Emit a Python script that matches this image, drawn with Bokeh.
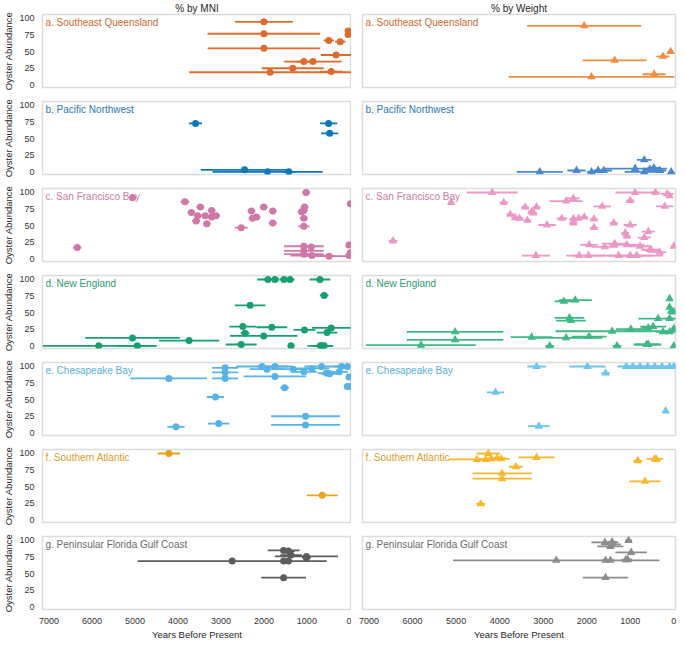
from bokeh.plotting import figure
from bokeh.layouts import column, row
from bokeh.models import Range1d, Label, FixedTicker
from bokeh.embed import file_html
from bokeh.resources import INLINE

col_titles = ["% by MNI", "% by Weight"]
region_names = ["a. Southeast Queensland", "b. Pacific Northwest", "c. San Francisco Bay",
                "d. New England", "e. Chesapeake Bay", "f. Southern Atlantic",
                "g. Peninsular Florida Gulf Coast"]
x_ticks = [0, 1000, 2000, 3000, 4000, 5000, 6000, 7000]
y_ticks = [0, 25, 50, 75, 100]
x_title = "Years Before Present"
y_title = "Oyster Abundance"

# ---- a. Southeast Queensland ----
qld_mni_year = [2000, 40, 40, 2000, 490, 225, 2000, 320, 1070, 860, 1330, 1855, 435]
qld_mni_pct = [95, 81, 76, 77, 67, 65, 55, 45, 35, 35, 25, 19, 20]
qld_mni_err = [670, 60, 60, 1310, 120, 120, 1310, 355, 200, 670, 720, 1880, 260]
qld_wt_year = [2060, 75, 250, 1360, 1890, 455]
qld_wt_pct = [89, 50, 43, 37, 12, 16]
qld_wt_err = [1310, 60, 150, 735, 1900, 265]

# ---- b. Pacific Northwest ----
pnw_mni_year = [3590, 495, 470, 2450, 1915, 1420]
pnw_mni_pct = [73, 73, 58, 3, 0, 0]
pnw_mni_err = [150, 200, 200, 1020, 1280, 150]
pnw_wt_year = [3080, 2235, 1890, 1740, 1610, 680, 890, 680, 550, 460, 325, 60]
pnw_wt_pct = [0, 2, 0, 2, 2, 18, 5, 0, 4, 6, 2, 0]
pnw_wt_err = [530, 210, 110, 100, 190, 170, 730, 450, 150, 150, 150, 60]

# ---- c. San Francisco Bay ----
sfb_mni_year = [5056, 6343, 3837, 3687, 3538, 3575, 3478, 3366, 3328, 3216, 3216, 3111,
                2528, 2289, 2266, 2169, 2004, 1795, 1795, 1122, 1055, 1070, 1017, 1070,
                1070, 1070, 898, 1070, 1070, 883, 486, 22, 22, -10, -10]
sfb_mni_pct = [92, 17, 86, 70, 65, 57, 78, 65, 53, 73, 63, 65,
               47, 72, 61, 63, 78, 72, 54, 71, 78, 73, 100, 61,
               49, 19, 18, 12, 7, 5, 4, 5, 21, 83, 9]
sfb_mni_err = [60, 100, 100, 90, 90, 90, 90, 90, 90, 90, 90, 90,
               150, 90, 90, 90, 90, 90, 90, 90, 90, 90, 90, 90,
               130, 460, 90, 460, 460, 500, 500, 60, 60, 60, 60]
sfb_wt_year = [5114, 6449, 4171, 3907, 3757, 3643, 3545, 3417, 3266, 3228, 3153, 3364,
               2912, 3168, 2474, 2308, 2572, 2308, 2308, 2188, 2059, 1833, 1833, 1644,
               1380, 1003, 890, 422, 158, 98, 211, 1003, 1116, 1078, 588, 679,
               1946, 1584, 1358, 1078, 777, 513, 324, 0, 2172, 1961, 1267, 1003, 852, 551]
sfb_wt_pct = [85, 27, 100, 85, 67, 62, 61, 78, 71, 69, 78, 58,
              51, 5, 87, 91, 61, 60, 54, 61, 63, 60, 47, 79,
              54, 88, 100, 100, 98, 95, 79, 51, 39, 34, 41, 32,
              21, 18, 23, 21, 19, 13, 10, 19, 5, 5, 5, 5, 5, 14]
sfb_wt_err = [60, 100, 585, 100, 90, 90, 90, 90, 90, 90, 90, 90,
              200, 320, 380, 150, 120, 90, 90, 90, 90, 90, 90, 200,
              90, 90, 450, 100, 150, 60, 200, 150, 90, 90, 150, 150,
              200, 300, 300, 400, 250, 200, 150, 60, 300, 400, 600, 500, 600, 200]

# ---- d. New England ----
ne_mni_year = [1907, 1743, 1533, 1391, 696, 598, 2319, 2491, 1817, 2438, 2004, 1055,
               434, 531, 5056, 3740, 5841, 4944, 2528, 1369, 688, 643, 598]
ne_mni_pct = [100, 100, 100, 100, 100, 76, 61, 29, 28, 19, 15, 24,
              27, 20, 12, 8, 0, 0, 2, 0, 0, 0, 0]
ne_mni_err = [250, 100, 100, 100, 240, 100, 355, 310, 360, 100, 785, 255,
              450, 240, 1100, 700, 1300, 450, 360, 80, 300, 250, 200]
ne_wt_year = [2527, 2263, 2399, 2361, 5024, 5024, 5808, 3266, 2851, 2474, 1946, 1418,
              1305, 988, 588, 475, 362, 98, 98, 98, 60, 0, 249, 98, 0, 588, 0, 626]
ne_wt_pct = [67, 69, 42, 38, 21, 9, 1, 13, 0, 12, 14, 22,
             0, 25, 27, 29, 41, 41, 71, 58, 52, 51, 21, 21, 26, 2, 0, 2]
ne_wt_err = [210, 380, 340, 340, 1110, 1110, 1260, 480, 100, 830, 400, 1300,
             100, 340, 150, 300, 450, 100, 60, 60, 60, 40, 150, 150, 60, 300, 60, 300]

# ---- e. Chesapeake Bay ----
cb_mni_year = [4211, 4046, 3126, 3052, 2902, 2902, 2902, 2042, 1743, 1743, 1930, 1518,
               1316, 1070, 1032, 1032, 658, 546, 471, 194, 60, 22, 60, 22, 883, 247]
cb_mni_pct = [82, 9, 54, 14, 98, 91, 82, 100, 100, 85, 96, 68,
              96, 92, 25, 12, 100, 90, 89, 100, 100, 84, 70, 70, 97, 92]
cb_mni_err = [890, 200, 200, 250, 300, 300, 300, 600, 400, 730, 400, 100,
              500, 300, 800, 800, 400, 200, 200, 200, 60, 60, 60, 60, 400, 200]
cb_wt_year = [3153, 1984, 1569, 1094, 943, 777, 603, 437, 272, 98, 0, 4096, 3100, 189]
cb_wt_pct = [100, 100, 90, 100, 100, 100, 100, 100, 100, 100, 100, 61, 10, 33]
cb_wt_err = [210, 415, 100, 200, 150, 150, 150, 150, 150, 150, 60, 200, 250, 60]

# ---- f. Southern Atlantic ----
sa_mni_year = [4211, 643]
sa_mni_pct = [100, 37]
sa_mni_err = [262, 360]
sa_wt_year = [4262, 4526, 4322, 4194, 4058, 3968, 3153, 3628, 3945, 3945, 4435, 830, 437, 400, 664]
sa_wt_pct = [100, 91, 91, 92, 93, 92, 94, 80, 70, 62, 24, 89, 92, 91, 58]
sa_wt_err = [265, 650, 200, 200, 200, 200, 415, 160, 680, 680, 100, 100, 190, 100, 360]

# ---- g. Peninsular Florida Gulf Coast ----
fl_mni_year = [1541, 1429, 1369, 1010, 1010, 2737, 1541, 1429, 1541]
fl_mni_pct = [85, 84, 78, 76, 74, 69, 69, 69, 44]
fl_mni_err = [370, 150, 250, 735, 100, 2200, 100, 100, 520]
fl_wt_year = [1041, 1584, 1418, 1418, 1456, 981, 2700, 1569, 1456, 1101, 1056, 1569]
fl_wt_pct = [100, 97, 98, 94, 91, 82, 70, 70, 70, 71, 71, 44]
fl_wt_err = [80, 310, 100, 200, 300, 360, 2370, 100, 100, 100, 100, 520]

panels = [
    (qld_mni_year, qld_mni_pct, qld_mni_err, qld_wt_year, qld_wt_pct, qld_wt_err),
    (pnw_mni_year, pnw_mni_pct, pnw_mni_err, pnw_wt_year, pnw_wt_pct, pnw_wt_err),
    (sfb_mni_year, sfb_mni_pct, sfb_mni_err, sfb_wt_year, sfb_wt_pct, sfb_wt_err),
    (ne_mni_year, ne_mni_pct, ne_mni_err, ne_wt_year, ne_wt_pct, ne_wt_err),
    (cb_mni_year, cb_mni_pct, cb_mni_err, cb_wt_year, cb_wt_pct, cb_wt_err),
    (sa_mni_year, sa_mni_pct, sa_mni_err, sa_wt_year, sa_wt_pct, sa_wt_err),
    (fl_mni_year, fl_mni_pct, fl_mni_err, fl_wt_year, fl_wt_pct, fl_wt_err),
]

mni_colors = ["#DF6A2C", "#0A77B8", "#CF77A9", "#16A070", "#57B3E6", "#E8A11A", "#5C5C5C"]
wt_colors = ["#F58B3F", "#4A88CC", "#EB98C8", "#3DB887", "#6CC5EE", "#FBB72B", "#8C8C8C"]
label_colors = ["#D0692F", "#2A78B0", "#C97DA8", "#2A9A72", "#5AAFDC", "#DDA028", "#6A6A6A"]

FONT = "Liberation Sans"
X0, X1 = 7150, -38
Y0, Y1 = -4, 106
FH = 73
FW_L, FW_R = 309, 313


def make_fig(r, side):
    top = r == 0
    bottom = r == 6
    fw = FW_L if side == 0 else FW_R
    p = figure(frame_width=fw, frame_height=FH,
               x_range=Range1d(X0, X1), y_range=Range1d(Y0, Y1),
               output_backend="svg", toolbar_location=None,
               min_border_left=31 if side == 0 else 11,
               min_border_right=0 if side == 0 else 5,
               min_border_top=13 if top else 7,
               min_border_bottom=28 if bottom else 7)
    p.grid.visible = False
    p.outline_line_color = "#DCDCDC"
    p.outline_line_width = 1.5
    p.background_fill_color = "white"
    p.border_fill_color = "white"

    p.xaxis.ticker = FixedTicker(ticks=x_ticks)
    p.yaxis.ticker = FixedTicker(ticks=y_ticks)
    for ax in (p.xaxis, p.yaxis):
        ax.axis_line_color = None
        ax.major_tick_line_color = None
        ax.minor_tick_line_color = None
        ax.major_label_text_font = FONT
        ax.major_label_text_font_size = "9px"
        ax.major_label_text_color = "#333333"
        ax.axis_label_text_font = FONT
        ax.axis_label_text_font_size = "9.5px"
        ax.axis_label_text_font_style = "normal"
        ax.axis_label_text_color = "#262626"
        ax.major_label_standoff = 2
        ax.axis_label_standoff = 2
    if bottom:
        p.xaxis.axis_label = x_title
    else:
        p.xaxis.visible = False
    if side == 0:
        p.yaxis.axis_label = y_title
    else:
        p.yaxis.visible = False

    if top:
        p.title.text = col_titles[side]
        p.title.align = "center"
        p.title.text_font = FONT
        p.title.text_font_size = "10px"
        p.title.text_font_style = "normal"
        p.title.text_color = "#262626"
        p.title.standoff = 1
        p.title.offset = 0

    yrs, pct, err = panels[r][side * 3: side * 3 + 3]
    color = mni_colors[r] if side == 0 else wt_colors[r]
    x0 = [a - e for a, e in zip(yrs, err)]
    x1 = [a + e for a, e in zip(yrs, err)]
    p.segment(x0=x0, y0=pct, x1=x1, y1=pct, line_color=color, line_width=1.8)
    if side == 0:
        p.scatter(x=yrs, y=pct, marker="circle", size=7, fill_color=color, line_color=None)
    else:
        p.scatter(x=yrs, y=pct, marker="triangle", size=8.5, fill_color=color, line_color=None)

    px_per_year = fw / (X0 - X1)
    lab = Label(x=X0 - 3 / px_per_year, y=Y1, y_offset=-2, text=region_names[r],
                text_font=FONT, text_font_size="10px", text_color=label_colors[r],
                text_baseline="top", text_align="left")
    p.add_layout(lab)
    return p


rows = []
for r in range(7):
    rows.append(row(make_fig(r, 0), make_fig(r, 1)))
layout = column(*rows)

open("out.html", "w").write(file_html(layout, INLINE))
